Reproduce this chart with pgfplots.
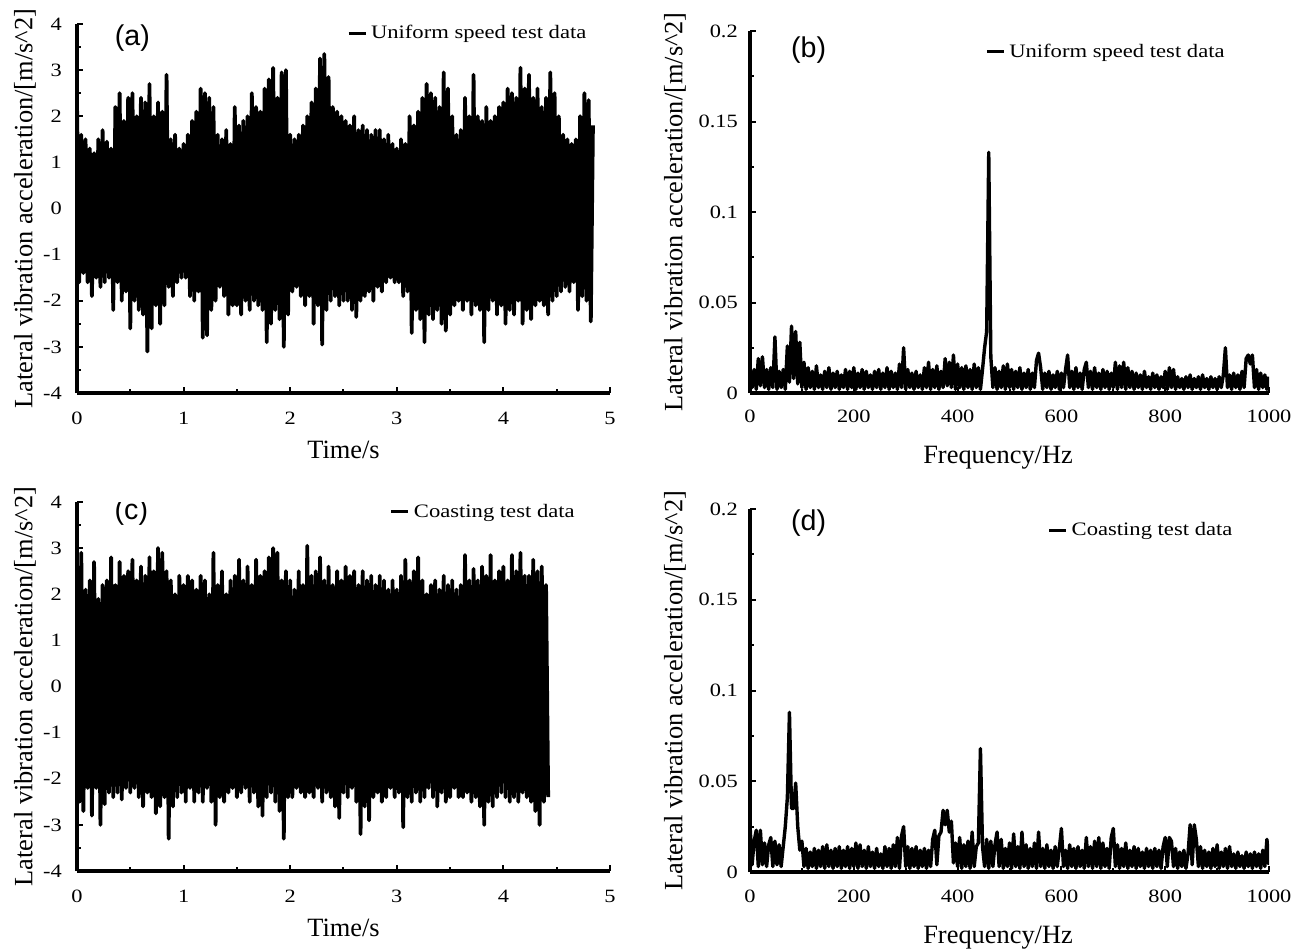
\documentclass[border=0pt]{standalone}
\usepackage{fontspec}
\setmainfont{Liberation Serif}
\newfontfamily\arialfont{Liberation Sans}
\newfontfamily\stretchfont{Liberation Serif}[FakeStretch=1.19]
\usepackage{pgfplots}
\usepackage{pgfplotstable}
\pgfplotsset{compat=1.18}

% (a) uniform speed, time signal, sampled every 0.02 s
\pgfplotstableread[header=false,row sep=\\]{
2.3\\-1.6\\1.6\\-1.4\\1.5\\-1.6\\1.3\\-1.9\\1.2\\-1.5\\1.5\\-1.7\\1.7\\-1.6\\1.45\\-1.5\\1.3\\-2.2\\2.2\\-1.6\\2.5\\-2.0\\1.9\\-1.8\\2.4\\-2.6\\2.5\\-2.0\\2.0\\-2.2\\2.4\\-2.3\\2.3\\-3.1\\2.7\\-2.6\\2.0\\-2.1\\2.3\\-2.5\\2.1\\-2.1\\2.9\\-1.7\\1.5\\-1.9\\1.6\\-1.6\\1.3\\-1.5\\
1.4\\-1.5\\1.6\\-1.9\\1.9\\-2.0\\2.1\\-1.8\\2.6\\-2.8\\2.5\\-2.75\\2.4\\-2.2\\2.2\\-2.0\\1.6\\-1.7\\1.5\\-1.9\\1.7\\-2.3\\1.4\\-2.1\\2.2\\-2.1\\1.8\\-2.3\\1.9\\-2.0\\2.0\\-2.2\\2.5\\-2.0\\2.2\\-2.1\\2.1\\-2.2\\2.6\\-2.9\\2.8\\-2.5\\3.05\\-2.2\\2.4\\-2.4\\2.95\\-3.0\\3.0\\-2.3\\
1.6\\-1.8\\1.5\\-1.7\\1.6\\-1.9\\1.8\\-2.1\\2.0\\-1.9\\2.3\\-2.5\\2.6\\-2.1\\3.25\\-2.95\\3.35\\-2.2\\2.85\\-2.0\\2.2\\-1.9\\2.1\\-2.1\\2.0\\-2.0\\1.9\\-2.0\\1.8\\-2.2\\2.0\\-2.35\\1.7\\-2.0\\1.8\\-1.9\\1.7\\-1.8\\1.6\\-2.0\\1.7\\-1.7\\1.7\\-1.8\\1.5\\-1.6\\1.6\\-1.5\\1.4\\-1.6\\
1.3\\-1.6\\1.5\\-1.9\\1.4\\-1.8\\2.0\\-2.7\\1.8\\-2.2\\2.1\\-2.4\\2.4\\-2.9\\2.7\\-2.3\\2.5\\-2.4\\2.4\\-2.2\\2.2\\-2.5\\2.95\\-2.65\\2.6\\-2.3\\2.0\\-2.1\\1.6\\-2.0\\1.7\\-2.2\\2.4\\-2.0\\2.0\\-2.3\\2.9\\-2.1\\2.0\\-2.2\\1.9\\-2.9\\2.2\\-2.2\\1.9\\-2.0\\2.0\\-2.3\\2.2\\-2.1\\
2.3\\-2.5\\2.6\\-2.2\\2.5\\-2.3\\2.4\\-2.0\\3.05\\-2.5\\2.6\\-2.2\\2.9\\-2.4\\2.4\\-2.1\\2.6\\-2.0\\2.2\\-2.1\\2.4\\-2.3\\2.95\\-2.0\\2.5\\-1.9\\2.0\\-1.8\\1.6\\-1.7\\1.5\\-1.8\\1.4\\-1.6\\1.5\\-2.2\\2.0\\-1.9\\2.5\\-2.0\\2.35\\-2.45\\1.8\\
}\dataA

% (c) coasting, time signal, sampled every 0.02 s
\pgfplotstableread[header=false,row sep=\\]{
2.75\\-2.5\\2.9\\-2.7\\2.1\\-2.2\\2.3\\-2.8\\2.7\\-2.2\\1.9\\-3.0\\2.2\\-2.55\\2.3\\-2.3\\2.8\\-2.4\\2.2\\-2.3\\2.7\\-2.45\\2.4\\-2.2\\2.5\\-2.3\\2.75\\-2.2\\2.3\\-2.4\\2.6\\-2.6\\2.4\\-2.3\\2.8\\-2.4\\2.5\\-2.75\\3.0\\-2.6\\2.9\\-2.4\\2.5\\-3.3\\2.3\\-2.6\\2.0\\-2.4\\2.4\\-2.3\\
2.2\\-2.5\\2.4\\-2.2\\2.3\\-2.5\\2.1\\-2.3\\2.4\\-2.5\\2.3\\-2.2\\2.0\\-2.5\\2.9\\-3.0\\2.2\\-2.4\\2.5\\-2.5\\2.0\\-2.3\\2.3\\-2.2\\2.4\\-2.4\\2.75\\-2.3\\2.3\\-2.2\\2.6\\-2.5\\2.2\\-2.3\\2.75\\-2.6\\2.4\\-2.8\\2.5\\-2.4\\2.8\\-2.3\\3.0\\-2.5\\2.9\\-2.7\\2.3\\-3.3\\2.5\\-2.4\\
2.3\\-2.4\\2.1\\-2.2\\2.5\\-2.3\\2.2\\-2.4\\3.05\\-2.3\\2.4\\-2.4\\2.5\\-2.2\\2.8\\-2.5\\2.3\\-2.3\\2.6\\-2.4\\2.2\\-2.6\\2.5\\-2.85\\2.3\\-2.3\\2.6\\-2.4\\2.4\\-2.2\\2.5\\-2.5\\2.2\\-3.2\\2.5\\-2.6\\2.3\\-2.9\\2.4\\-2.4\\2.2\\-2.3\\2.4\\-2.5\\2.3\\-2.4\\2.1\\-2.2\\2.3\\-2.4\\
2.1\\-2.3\\2.4\\-3.05\\2.75\\-2.4\\2.3\\-2.5\\2.5\\-2.3\\2.8\\-2.5\\2.3\\-2.4\\2.0\\-2.2\\2.2\\-2.4\\2.3\\-2.6\\2.1\\-2.3\\2.4\\-2.5\\2.2\\-2.4\\2.3\\-2.2\\2.1\\-2.4\\2.2\\-2.4\\2.85\\-2.3\\2.3\\-2.5\\2.55\\-2.4\\2.3\\-2.6\\2.6\\-3.0\\2.4\\-2.5\\2.85\\-2.6\\2.3\\-2.4\\2.5\\-2.3\\
2.6\\-2.4\\2.3\\-2.5\\2.85\\-2.4\\2.5\\-2.5\\2.9\\-2.3\\2.4\\-2.4\\2.4\\-2.5\\2.75\\-2.7\\2.5\\-3.0\\2.6\\-2.5\\2.2\\-2.4\\
}\dataC

% (b) uniform speed spectrum, every 4 Hz, values in 0.001 m/s^2
\pgfplotstableread[header=false,row sep=\\]{
14\\3\\13\\2\\19\\4\\20\\3\\13\\2\\14\\3\\31\\2\\12\\3\\13\\2\\26\\6\\37\\8\\34\\5\\28\\3\\17\\2\\14\\3\\12\\2\\15\\3\\10\\2\\12\\3\\14\\2\\11\\3\\12\\2\\10\\3\\13\\2\\12\\3\\
14\\2\\11\\3\\13\\2\\12\\3\\10\\2\\12\\3\\13\\2\\11\\3\\14\\2\\12\\3\\11\\2\\16\\3\\25\\2\\13\\3\\11\\2\\12\\3\\10\\2\\14\\3\\17\\2\\13\\3\\15\\2\\12\\3\\19\\4\\17\\3\\21\\2\\
16\\3\\14\\2\\15\\3\\13\\2\\16\\3\\14\\2\\13\\25\\34\\133\\20\\3\\14\\2\\12\\3\\15\\2\\16\\3\\13\\2\\12\\3\\14\\2\\11\\3\\13\\2\\11\\3\\18\\22\\14\\2\\11\\3\\12\\2\\10\\3\\12\\2\\
11\\3\\13\\21\\3\\12\\2\\14\\3\\11\\2\\13\\17\\3\\12\\2\\14\\3\\11\\2\\13\\3\\12\\2\\11\\3\\17\\2\\15\\3\\17\\2\\14\\3\\12\\2\\11\\3\\10\\2\\12\\3\\9\\2\\11\\3\\10\\2\\9\\3\\
12\\2\\14\\3\\13\\2\\9\\3\\8\\2\\9\\3\\10\\2\\8\\3\\9\\2\\10\\3\\8\\2\\9\\3\\8\\2\\9\\3\\10\\25\\3\\10\\2\\11\\3\\10\\2\\12\\3\\19\\21\\16\\21\\3\\13\\2\\11\\3\\10\\2\\9\\
}\dataB

% (d) coasting spectrum, every 4 Hz, values in 0.001 m/s^2
\pgfplotstableread[header=false,row sep=\\]{
26\\4\\17\\23\\3\\23\\4\\16\\3\\15\\19\\3\\17\\4\\15\\3\\14\\25\\41\\88\\35\\35\\49\\25\\12\\17\\3\\13\\2\\11\\3\\13\\2\\12\\3\\14\\2\\15\\3\\12\\2\\13\\3\\14\\2\\12\\3\\14\\2\\13\\
3\\16\\2\\15\\3\\12\\2\\14\\3\\11\\2\\13\\3\\10\\2\\14\\3\\13\\2\\15\\3\\19\\2\\20\\25\\3\\14\\2\\13\\3\\14\\2\\12\\3\\13\\2\\12\\3\\18\\23\\4\\20\\22\\34\\26\\34\\22\\28\\5\\16\\
3\\19\\2\\15\\3\\17\\2\\22\\3\\14\\16\\68\\14\\3\\18\\2\\17\\3\\15\\22\\3\\18\\2\\13\\3\\16\\2\\21\\3\\14\\2\\22\\3\\15\\2\\13\\3\\16\\2\\22\\3\\13\\2\\15\\3\\12\\2\\14\\3\\13\\
24\\3\\12\\2\\15\\3\\13\\2\\14\\3\\12\\2\\19\\3\\14\\2\\17\\3\\19\\2\\16\\3\\13\\2\\19\\24\\3\\15\\2\\13\\3\\16\\2\\12\\3\\14\\2\\13\\3\\11\\2\\13\\3\\12\\2\\13\\3\\12\\2\\14\\
19\\3\\19\\17\\3\\13\\2\\11\\3\\12\\2\\10\\26\\4\\26\\18\\3\\14\\2\\12\\3\\11\\2\\13\\3\\15\\2\\11\\3\\13\\2\\14\\3\\10\\2\\11\\3\\9\\2\\11\\3\\10\\2\\11\\3\\10\\2\\12\\3\\18\\4\\
}\dataD

\pgfplotsset{
  panel/.style={
    scale only axis,
    axis lines=left,
    axis line style={line width=1.6pt,-},
    tick align=inside,
    major tick length=3.2pt,
    minor tick length=2.2pt,
    tick style={black,line width=1pt},
    tick label style={font=\stretchfont\fontsize{9.4}{11}\selectfont},
    /pgf/number format/assume math mode=true,
    /pgf/number format/1000 sep={},
    scaled ticks=false,
    label style={font=\fontsize{13.2}{15}\selectfont},
    ylabel={Lateral vibration acceleration/[m/s\textasciicircum 2]},
    minor x tick num=1,
    minor y tick num=1,
    legend style={draw=none,fill=none,inner sep=0pt,anchor=east,
      font=\stretchfont\fontsize{9.5}{11}\selectfont,
      /tikz/every even column/.append style={column sep=0pt}},
    legend image code/.code={\draw[line width=1.5pt,black] (0pt,0pt) -- (8.5pt,0pt);},
  },
  timepanel/.style={panel,
    xmin=0,xmax=5,ymin=-4,ymax=4,
    xtick={0,1,2,3,4,5},ytick={-4,-3,-2,-1,0,1,2,3,4},
    xlabel={Time/s},
    width=266.5pt,
    ylabel style={at={(axis description cs:-0.0976,0.5)},anchor=center},
    yticklabel style={xshift=-4.1pt},
  },
  freqpanel/.style={panel,
    xmin=0,xmax=1000,ymin=0,ymax=200,
    xtick={0,200,400,600,800,1000},ytick={0,50,100,150,200},
    yticklabels={0,0.05,0.1,0.15,0.2},
    xlabel={Frequency/Hz},
    width=259.5pt,
    ylabel style={at={(axis description cs:-0.1445,0.5)},anchor=center},
    yticklabel style={xshift=-2.6pt},
  },
}

\begin{document}
\begin{tikzpicture}
\path[use as bounding box] (0,0) rectangle (653.5pt,475pt);

% (a)
\begin{axis}[timepanel, at={(38.5pt,278.5pt)}, anchor=south west, height=184.5pt,
  xlabel style={at={(axis description cs:0.5,-0.1545)},anchor=center},
  xticklabel style={yshift=-6pt},
  legend style={at={(0.964,0.9756)}}]
\addplot[black,line width=1.9pt,line join=round] table[x expr=\coordindex*0.02,y index=0]{\dataA};
\addlegendentry{Uniform speed test data}
\node[font=\arialfont\fontsize{14.3}{16}\selectfont] at (axis description cs:0.104,0.962) {(a)};
\end{axis}

% (b)
\begin{axis}[freqpanel, at={(375pt,278.5pt)}, anchor=south west, height=181pt,
  xlabel style={at={(axis description cs:0.478,-0.1796)},anchor=center},
  xticklabel style={yshift=-5pt},
  legend style={at={(0.923,0.942)}}]
\addplot[black,line width=1.7pt,line join=round] table[x expr=\coordindex*4,y index=0]{\dataB};
\addlegendentry{Uniform speed test data}
\node[font=\arialfont\fontsize{14.3}{16}\selectfont] at (axis description cs:0.113,0.9475) {(b)};
\end{axis}

% (c)
\begin{axis}[timepanel, at={(38.5pt,39.5pt)}, anchor=south west, height=184.5pt,
  xlabel style={at={(axis description cs:0.5,-0.1545)},anchor=center},
  xticklabel style={yshift=-6pt},
  legend style={at={(0.942,0.973)}}]
\addplot[black,line width=1.9pt,line join=round] table[x expr=\coordindex*0.02,y index=0]{\dataC};
\addlegendentry{Coasting test data}
\node[font=\arialfont\fontsize{14.3}{16}\selectfont] at (axis description cs:0.102,0.973) {(c)};
\end{axis}

% (d)
\begin{axis}[freqpanel, at={(375pt,39pt)}, anchor=south west, height=181.5pt,
  xlabel style={at={(axis description cs:0.478,-0.1818)},anchor=center},
  xticklabel style={yshift=-5.5pt},
  legend style={at={(0.938,0.942)}}]
\addplot[black,line width=1.7pt,line join=round] table[x expr=\coordindex*4,y index=0]{\dataD};
\addlegendentry{Coasting test data}
\node[font=\arialfont\fontsize{14.3}{16}\selectfont] at (axis description cs:0.113,0.961) {(d)};
\end{axis}
\end{tikzpicture}
\end{document}
